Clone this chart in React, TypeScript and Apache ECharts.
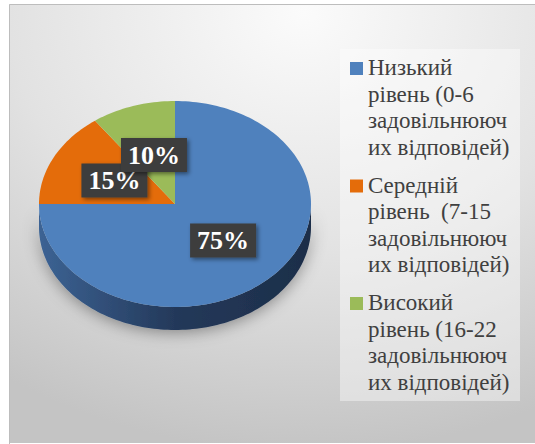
import React, { useEffect, useRef } from "react";
import * as echarts from "echarts";

// ---- data ----
const categories = [
  ["Низький", "рівень (0-6", "задовільнююч", "их відповідей)"],
  ["Середній", "рівень  (7-15", "задовільнююч", "их відповідей)"],
  ["Високий", "рівень (16-22", "задовільнююч", "их відповідей)"],
];
const values = [75, 15, 10];

// ---- styles ----
const topColors = ["#4f81bd", "#e46c0a", "#9bbb59"];
const sideStops = [
  ["#3c6394", "#24395a", "#1c2e49"],
  ["#a84f07", "#7e3b05", "#6a3204"],
  ["#738b42", "#566832", "#4a5a2b"],
];

const SERIF = "'Liberation Serif', 'DejaVu Serif', serif";

const CX = 175;
const CY = 204;
const RX = 136;
const RY = 103;
const DEPTH = 23;

const W = 535;
const H = 444;

export default function App() {
  const ref = useRef<HTMLDivElement>(null);

  useEffect(() => {
    document.body.style.margin = "0";
    if (!ref.current) return;
    const chart = echarts.init(ref.current, undefined, { renderer: "svg" });
    const total = values.reduce((a, b) => a + b, 0);

    const legendGraphics: any[] = [];
    categories.forEach((lines, i) => {
      const cy = 68.5 + 117.5 * i;
      legendGraphics.push({
        type: "rect",
        shape: { x: 350, y: cy - 6.5, width: 13, height: 13 },
        style: { fill: topColors[i] },
      });
      lines.forEach((line, k) => {
        legendGraphics.push({
          type: "text",
          x: 368,
          y: cy - 1 + 26.5 * k,
          style: {
            text: line,
            fill: "#404040",
            font: "23px " + SERIF,
            fontFamily: SERIF,
            fontSize: 23,
            verticalAlign: "middle",
          },
        });
      });
    });

    const option: any = {
      animation: false,
      textStyle: { fontFamily: SERIF },
      graphic: [
        {
          type: "rect",
          z: -10,
          shape: { x: 9, y: 4, width: W, height: H - 5 },
          style: {
            fill: new echarts.graphic.RadialGradient(0.55, 0.02, 1.0, [
              { offset: 0, color: "#fbfbfb" },
              { offset: 0.55, color: "#e2e2e2" },
              { offset: 1, color: "#c4c4c4" },
            ]),
          },
        },
        {
          type: "polyline",
          z: -8,
          shape: { points: [[9.5, H], [9.5, 4.5], [W, 4.5]] },
          style: { stroke: "#bdbdbd", lineWidth: 1, fill: "none" },
        },
        {
          type: "rect",
          z: -9,
          shape: { x: 340, y: 49, width: 180, height: 352 },
          style: { fill: "rgba(255,255,255,0.4)" },
        },
        ...legendGraphics,
      ],
      series: [
        {
          type: "custom",
          coordinateSystem: "none",
          data: values.map((v) => [v]),
          renderItem: (params: any, api: any) => {
            const i = params.dataIndex;
            let before = 0;
            for (let k = 0; k < i; k++) before += values[k];
            const v = api.value(0);
            const a0 = (before / total) * Math.PI * 2;
            const a1 = ((before + v) / total) * Math.PI * 2;
            const pt = (a: number, dy = 0) => [
              CX + RX * Math.sin(a),
              CY - RY * Math.cos(a) + dy,
            ];
            const N = Math.max(4, Math.ceil((a1 - a0) / (Math.PI / 120)));
            const arc: number[][] = [];
            for (let s = 0; s <= N; s++) arc.push(pt(a0 + ((a1 - a0) * s) / N));
            const children: any[] = [];
            const s0 = Math.max(a0, Math.PI / 2);
            const s1 = Math.min(a1, (3 * Math.PI) / 2);
            if (s1 > s0) {
              const M = Math.max(4, Math.ceil((s1 - s0) / (Math.PI / 120)));
              const topPts: number[][] = [];
              const botPts: number[][] = [];
              for (let s = 0; s <= M; s++) {
                const a = s0 + ((s1 - s0) * s) / M;
                topPts.push(pt(a));
                botPts.push(pt(a, DEPTH));
              }
              children.push({
                type: "polygon",
                z2: 1,
                shape: { points: topPts.concat(botPts.reverse()) },
                style: {
                  fill: new echarts.graphic.LinearGradient(1, 0, 0, 0, [
                    { offset: 0, color: sideStops[i][2] },
                    { offset: 0.5, color: sideStops[i][1] },
                    { offset: 1, color: sideStops[i][0] },
                  ]),
                  shadowBlur: 16,
                  shadowColor: "rgba(0,0,0,0.4)",
                  shadowOffsetY: 2,
                },
              });
            }
            children.push({
              type: "polygon",
              z2: 5,
              shape: { points: [[CX, CY], ...arc] },
              style: { fill: topColors[i] },
            });
            const am = (a0 + a1) / 2;
            children.push({
              type: "text",
              z2: 20 + i,
              x: CX + RX * 0.5 * Math.sin(am),
              y: CY - RY * 0.5 * Math.cos(am),
              style: {
                text: Math.round((v / total) * 100) + "%",
                fill: "#ffffff",
                font: "bold 26px " + SERIF,
                fontFamily: SERIF,
                fontWeight: "bold",
                fontSize: 26,
                align: "center",
                verticalAlign: "middle",
                backgroundColor: "#3d3d3d",
                padding: [4, 7, 4, 7],
                shadowBlur: 4,
                shadowOffsetX: 2,
                shadowOffsetY: 2,
                shadowColor: "rgba(0,0,0,0.45)",
              },
            });
            return { type: "group", children };
          },
        },
      ],
    };
    chart.setOption(option);
    return () => chart.dispose();
  }, []);

  return (
    <div
      ref={ref}
      style={{ position: "absolute", left: 0, top: 0, width: W, height: H }}
    />
  );
}
